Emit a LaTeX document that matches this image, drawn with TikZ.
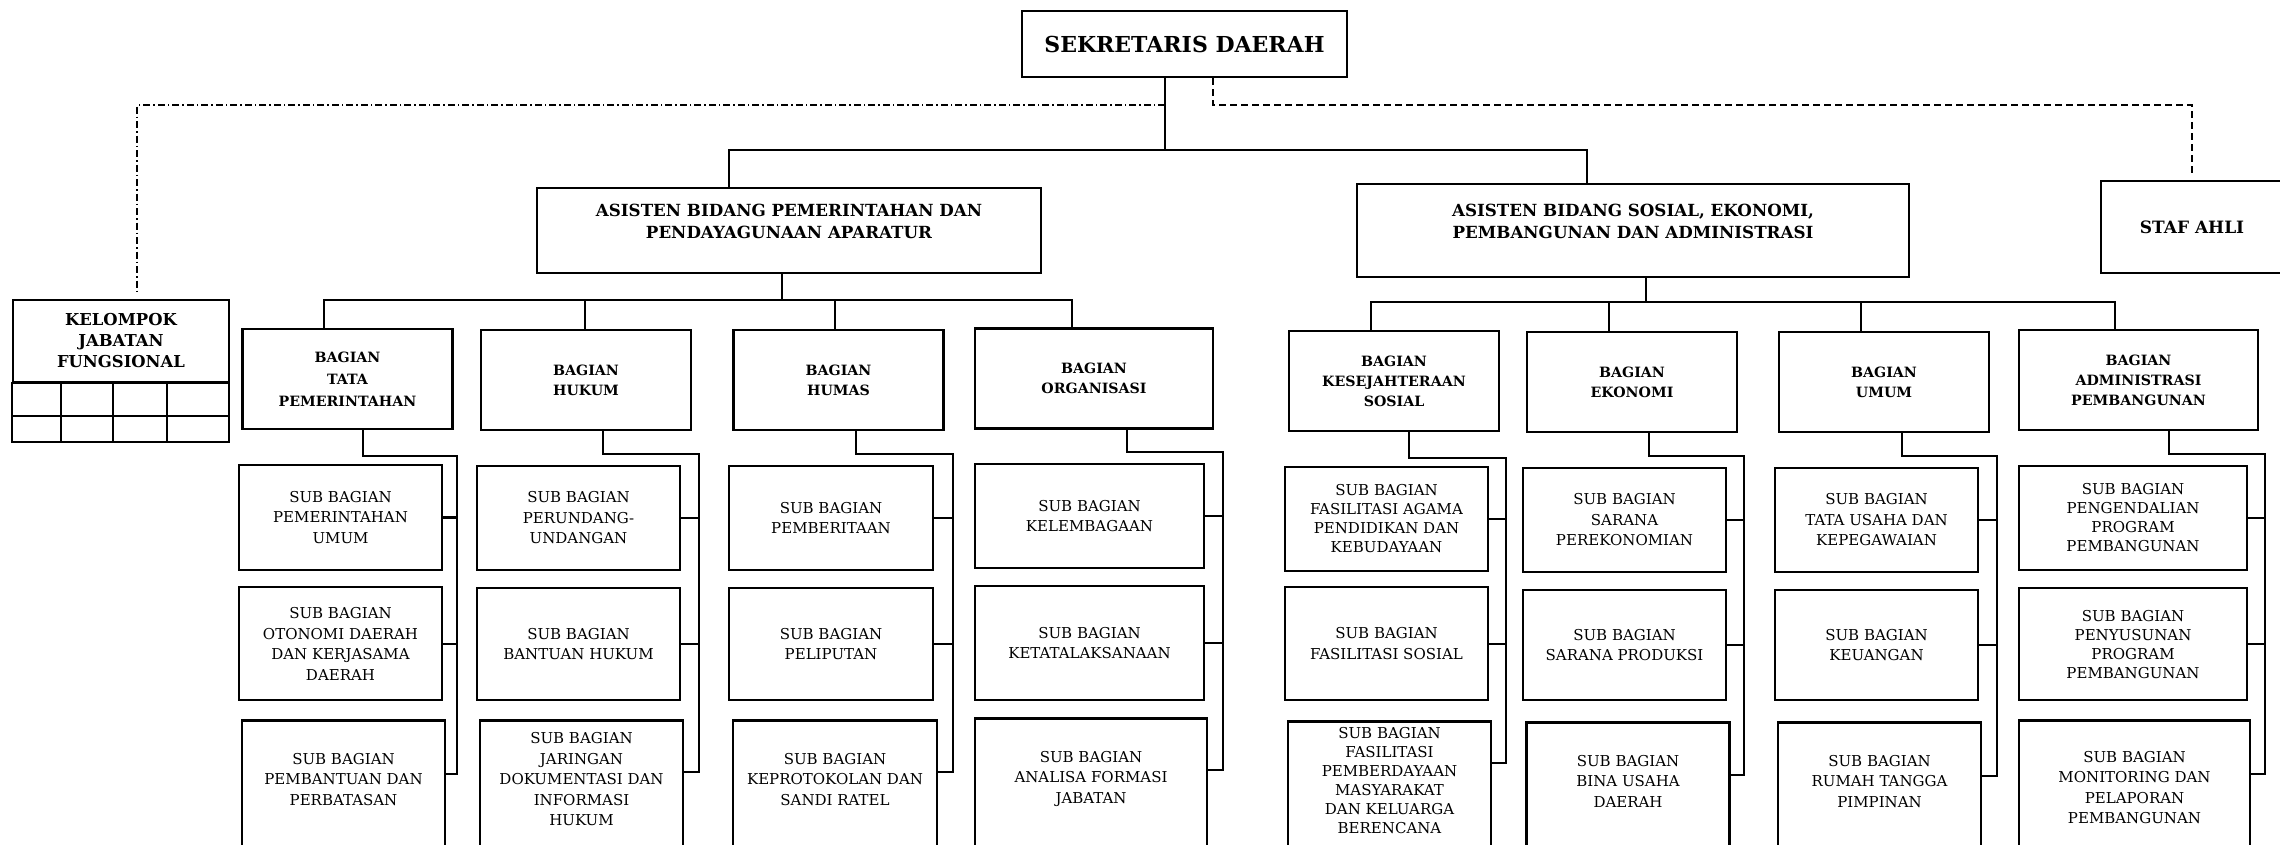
\documentclass[tikz,border=0pt]{standalone}
\usepackage{fontspec}
\setmainfont{DejaVu Serif}
\usetikzlibrary{positioning}
\tikzset{
    sek box/.style={rectangle, draw, line width=2.2pt, align=center, minimum width=325pt, minimum height=66pt, font=\fontsize{22}{26}\selectfont\bfseries},
    asisten box/.style={rectangle, draw, line width=2.2pt, align=center, minimum height=85pt, font=\fontsize{16.7}{22}\selectfont\bfseries},
    bagian box/.style={rectangle, draw, line width=2.2pt, align=center, minimum width=210pt, minimum height=100pt, font=\fontsize{14.2}{20}\selectfont\bfseries},
    sub box/.style={rectangle, draw, line width=2.2pt, align=center, minimum width=203pt, minimum height=105pt, font=\fontsize{15}{20.5}\selectfont},
    tall sub/.style={sub box, minimum height=134pt},
    link/.style={line width=2.2pt},
    dash link/.style={line width=1.8pt, dash pattern=on 7pt off 4pt},
    dashdot link/.style={line width=1.8pt, dash pattern=on 7pt off 3pt on 1.5pt off 3pt},
}

\begin{document}
\begin{tikzpicture}[x=1pt, y=-1pt]
\useasboundingbox (0,0) rectangle (2280,844);

\node[sek box] (sek) at (1184.5,44) {SEKRETARIS DAERAH};
\node[asisten box, minimum width=504pt] (apem) at (789,230.5) {ASISTEN BIDANG PEMERINTAHAN DAN\\PENDAYAGUNAAN APARATUR\\[-3pt]\mbox{}};
\node[asisten box, minimum width=552pt, minimum height=93pt] (asos) at (1633,230.5) {ASISTEN BIDANG SOSIAL, EKONOMI,\\PEMBANGUNAN DAN ADMINISTRASI\\[-3pt]\mbox{}};
\node[asisten box, minimum width=182pt, minimum height=92pt, font=\fontsize{17}{22}\selectfont\bfseries] (staf) at (2192,227) {STAF AHLI};
\node[bagian box, minimum width=216pt, minimum height=82pt, font=\fontsize{16.4}{21}\selectfont\bfseries] (kjf) at (121,341) {KELOMPOK\\JABATAN\\FUNGSIONAL};
\draw[link] (kjf.south west) rectangle (229,442);
\draw[link] (13,416) -- (229,416);
\draw[link] (61,382) -- (61,442) (113,382) -- (113,442) (167,382) -- (167,442);

\draw[link] (sek.south -| 1165,0) -- (1165,150);
\draw[link] (apem.north -| 729,0) |- (1587,150) -- (asos.north -| 1587,0);
\draw[dashdot link, shorten >=8pt] (1165,105) -| (kjf.north -| 137,0);
\draw[dash link, shorten >=4pt] (sek.south -| 1213,0) |- (2192,105) -- (staf.north);

% bagian
\node[bagian box, font=\fontsize{14.2}{22}\selectfont\bfseries] (tp) at (347.5,379) {BAGIAN\\TATA\\PEMERINTAHAN};
\node[bagian box] (hk) at (586,380) {BAGIAN\\HUKUM};
\node[bagian box] (hm) at (838.5,380) {BAGIAN\\HUMAS};
\node[bagian box, minimum width=238pt] (org) at (1094,378.5) {BAGIAN\\ORGANISASI};
\node[bagian box] (ks) at (1394,381) {BAGIAN\\KESEJAHTERAAN\\SOSIAL};
\node[bagian box] (ek) at (1632,382) {BAGIAN\\EKONOMI};
\node[bagian box] (um) at (1884,382) {BAGIAN\\UMUM};
\node[bagian box, minimum width=239pt] (adm) at (2138.5,380) {BAGIAN\\ADMINISTRASI\\PEMBANGUNAN};

\draw[link] (apem.south -| 782,0) -- (782,300);
\draw[link] (tp.north -| 324,0) |- (1072,300) -- (org.north -| 1072,0);
\draw[link] (hk.north -| 585,0) -- (585,300);
\draw[link] (hm.north -| 835,0) -- (835,300);
\draw[link] (asos.south -| 1646,0) -- (1646,302);
\draw[link] (ks.north -| 1371,0) |- (2115,302) -- (adm.north -| 2115,0);
\draw[link] (ek.north -| 1609,0) -- (1609,302);
\draw[link] (um.north -| 1861,0) -- (1861,302);

% sub bagian
\node[sub box] (tp1) at (340.5,517.5) {SUB BAGIAN\\PEMERINTAHAN\\UMUM};
\node[sub box, minimum height=113pt, below=15pt of tp1] (tp2) {SUB BAGIAN\\OTONOMI DAERAH\\DAN KERJASAMA\\DAERAH};
\node[tall sub, below=18pt of tp2, xshift=3pt] (tp3) {SUB BAGIAN\\PEMBANTUAN DAN\\PERBATASAN\\[-4pt]\mbox{}};
\draw[link] (tp.south -| 363,0) |- (457,456) -- (457,774) -- (tp3.east |- 0,774);
\draw[link] (tp1.east) -- (tp1.east -| 457,0);
\draw[link] (tp2.east) -- (tp2.east -| 457,0);

\node[sub box, minimum height=104pt] (hk1) at (578.5,518) {SUB BAGIAN\\PERUNDANG-\\UNDANGAN};
\node[sub box, minimum height=112pt, below=16pt of hk1] (hk2) {SUB BAGIAN\\BANTUAN HUKUM};
\node[tall sub, below=18pt of hk2, xshift=3pt] (hk3) {SUB BAGIAN\\JARINGAN\\DOKUMENTASI DAN\\INFORMASI\\HUKUM\\[-4pt]\mbox{}};
\draw[link] (hk.south -| 603,0) |- (699,454) -- (699,772) -- (hk3.east |- 0,772);
\draw[link] (hk1.east) -- (hk1.east -| 699,0);
\draw[link] (hk2.east) -- (hk2.east -| 699,0);

\node[sub box, minimum width=204pt, minimum height=104pt] (hm1) at (831,518) {SUB BAGIAN\\PEMBERITAAN};
\node[sub box, minimum width=204pt, minimum height=112pt, below=16pt of hm1] (hm2) {SUB BAGIAN\\PELIPUTAN};
\node[tall sub, minimum width=204pt, below=18pt of hm2, xshift=4pt] (hm3) {SUB BAGIAN\\KEPROTOKOLAN DAN\\SANDI RATEL\\[-4pt]\mbox{}};
\draw[link] (hm.south -| 856,0) |- (953,454) -- (953,772) -- (hm3.east |- 0,772);
\draw[link] (hm1.east) -- (hm1.east -| 953,0);
\draw[link] (hm2.east) -- (hm2.east -| 953,0);

\node[sub box, minimum width=229pt, minimum height=104pt] (org1) at (1089.5,516) {SUB BAGIAN\\KELEMBAGAAN};
\node[sub box, minimum width=229pt, minimum height=114pt, below=16pt of org1] (org2) {SUB BAGIAN\\KETATALAKSANAAN};
\node[tall sub, minimum width=232pt, below=16pt of org2, xshift=1.5pt] (org3) {SUB BAGIAN\\ANALISA FORMASI\\JABATAN\\[-4pt]\mbox{}};
\draw[link] (org.south -| 1127,0) |- (1223,452) -- (1223,770) -- (org3.east |- 0,770);
\draw[link] (org1.east) -- (org1.east -| 1223,0);
\draw[link] (org2.east) -- (org2.east -| 1223,0);

\node[sub box, minimum height=104pt, font=\fontsize{15}{19}\selectfont] (ks1) at (1386.5,519) {SUB BAGIAN\\FASILITASI AGAMA\\PENDIDIKAN DAN\\KEBUDAYAAN};
\node[sub box, minimum height=113pt, below=14pt of ks1] (ks2) {SUB BAGIAN\\FASILITASI SOSIAL};
\node[tall sub, below=19pt of ks2, xshift=3pt, font=\fontsize{15}{19}\selectfont] (ks3) {SUB BAGIAN\\FASILITASI\\PEMBERDAYAAN\\MASYARAKAT\\DAN KELUARGA\\BERENCANA\\[-4pt]\mbox{}};
\draw[link] (ks.south -| 1409,0) |- (1506,458) -- (1506,763) -- (ks3.east |- 0,763);
\draw[link] (ks1.east) -- (ks1.east -| 1506,0);
\draw[link] (ks2.east) -- (ks2.east -| 1506,0);

\node[sub box, minimum height=104pt] (ek1) at (1624.5,520) {SUB BAGIAN\\SARANA\\PEREKONOMIAN};
\node[sub box, minimum height=110pt, below=16pt of ek1] (ek2) {SUB BAGIAN\\SARANA PRODUKSI};
\node[tall sub, below=20pt of ek2, xshift=3.5pt] (ek3) {SUB BAGIAN\\BINA USAHA\\DAERAH\\[-4pt]\mbox{}};
\draw[link] (ek.south -| 1649,0) |- (1744,456) -- (1744,775) -- (ek3.east |- 0,775);
\draw[link] (ek1.east) -- (ek1.east -| 1744,0);
\draw[link] (ek2.east) -- (ek2.east -| 1744,0);

\node[sub box, minimum height=104pt] (um1) at (1876.5,520) {SUB BAGIAN\\TATA USAHA DAN\\KEPEGAWAIAN};
\node[sub box, minimum height=110pt, below=16pt of um1] (um2) {SUB BAGIAN\\KEUANGAN};
\node[tall sub, below=20pt of um2, xshift=3pt] (um3) {SUB BAGIAN\\RUMAH TANGGA\\PIMPINAN\\[-4pt]\mbox{}};
\draw[link] (um.south -| 1902,0) |- (1997,456) -- (1997,776) -- (um3.east |- 0,776);
\draw[link] (um1.east) -- (um1.east -| 1997,0);
\draw[link] (um2.east) -- (um2.east -| 1997,0);

\node[sub box, minimum width=228pt, minimum height=104pt, font=\fontsize{15}{19}\selectfont] (adm1) at (2133,518) {SUB BAGIAN\\PENGENDALIAN\\PROGRAM\\PEMBANGUNAN};
\node[sub box, minimum width=228pt, minimum height=112pt, below=16pt of adm1, font=\fontsize{15}{19}\selectfont] (adm2) {SUB BAGIAN\\PENYUSUNAN\\PROGRAM\\PEMBANGUNAN};
\node[tall sub, minimum width=231pt, below=18pt of adm2, xshift=1.5pt] (adm3) {SUB BAGIAN\\MONITORING DAN\\PELAPORAN\\PEMBANGUNAN};
\draw[link] (adm.south -| 2169,0) |- (2265,454) -- (2265,774) -- (adm3.east |- 0,774);
\draw[link] (adm1.east) -- (adm1.east -| 2265,0);
\draw[link] (adm2.east) -- (adm2.east -| 2265,0);
\end{tikzpicture}
\end{document}
